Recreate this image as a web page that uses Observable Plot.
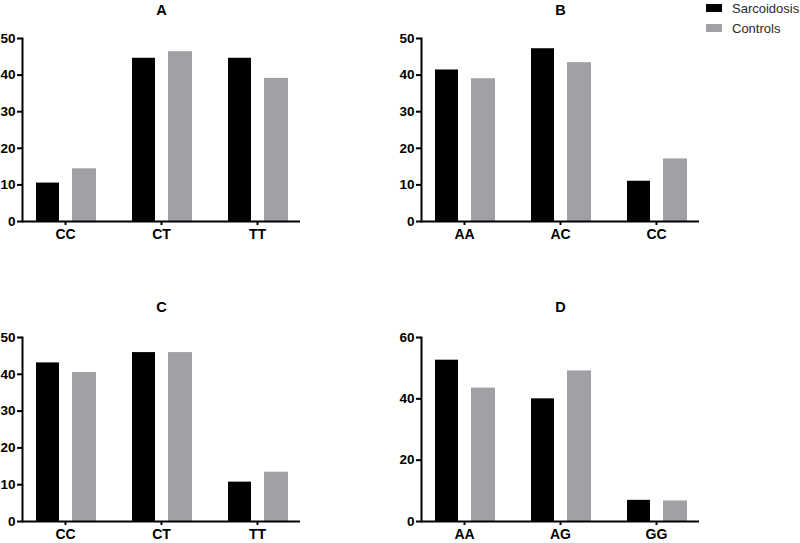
<!DOCTYPE html>
<html>
<head>
<meta charset="utf-8">
<script src="https://cdn.jsdelivr.net/npm/d3@7"></script>
<script src="https://cdn.jsdelivr.net/npm/@observablehq/plot@0.6"></script>
<style>
  html, body { margin: 0; padding: 0; background: #fff; }
  #wrap { position: relative; width: 800px; height: 543px; font-family: "Liberation Sans", Arial, sans-serif; }
  .panel { position: absolute; }
  .legend { position: absolute; left: 706px; font: 13px "Liberation Sans", Arial, sans-serif; color: #2a2a2a; }
  .legend .row { position: absolute; left: 0; display: flex; align-items: center; white-space: nowrap; }
  .legend .sw { width: 16px; height: 8px; margin-right: 10px; }
</style>
</head>
<body>
<div id="wrap"></div>
<script>
// ---- data ----
const series = ["Sarcoidosis", "Controls"];
const seriesColors = ["#000000", "#a1a1a5"];

const titleA = "A";
const genotypesA = ["CC", "CT", "TT"];
const sarcoidosisA = [10.5, 44.6, 44.6];
const controlsA = [14.4, 46.4, 39.1];

const titleB = "B";
const genotypesB = ["AA", "AC", "CC"];
const sarcoidosisB = [41.4, 47.2, 11.0];
const controlsB = [39.0, 43.4, 17.1];

const titleC = "C";
const genotypesC = ["CC", "CT", "TT"];
const sarcoidosisC = [43.1, 45.9, 10.7];
const controlsC = [40.5, 45.9, 13.4];

const titleD = "D";
const genotypesD = ["AA", "AG", "GG"];
const sarcoidosisD = [52.6, 40.0, 6.9];
const controlsD = [43.5, 49.1, 6.7];

const yTicksABC = [0, 10, 20, 30, 40, 50];
const yTicksD = [0, 20, 40, 60];

// ---- drawing ----
const wrap = document.getElementById("wrap");

function panel({title, genotypes, s, c, yMax, yTicks, left, top, height, marginTop, marginBottom, titleDy}) {
  const rowsS = genotypes.map((g, i) => ({genotype: g, value: s[i]}));
  const rowsC = genotypes.map((g, i) => ({genotype: g, value: c[i]}));
  const chart = Plot.plot({
    width: 400,
    height,
    marginLeft: 22,
    marginRight: 100,
    marginTop,
    marginBottom,
    style: {fontFamily: "Liberation Sans, Arial, sans-serif", fontSize: "14px", fontWeight: "bold", color: "#000", background: "transparent"},
    x: {domain: genotypes, paddingInner: 0.3575, paddingOuter: 0.119, label: null},
    y: {domain: [0, yMax], label: null},
    marks: [
      Plot.barY(rowsS, {x: "genotype", y: "value", fill: seriesColors[0], insetLeft: 2, insetRight: 37}),
      Plot.barY(rowsC, {x: "genotype", y: "value", fill: seriesColors[1], insetLeft: 38, insetRight: 0}),
      Plot.axisY({ticks: yTicks, tickSize: 5, tickPadding: 2, strokeWidth: 2, label: null, fontWeight: "bold", fontSize: 13.5}),
      Plot.axisX({tickSize: 4, tickPadding: 4, strokeWidth: 2, label: null, fontWeight: "bold", fontSize: 14}),
      Plot.ruleY([0], {stroke: "#000", strokeWidth: 2}),
      Plot.frame({anchor: "left", stroke: "#000", strokeWidth: 2}),
      Plot.text([title], {frameAnchor: "top", lineAnchor: "middle", dy: titleDy, fontSize: 14.5, fontWeight: "bold", fill: "#000"})
    ]
  });
  const d = document.createElement("div");
  d.className = "panel";
  d.style.left = left + "px";
  d.style.top = top + "px";
  d.appendChild(chart);
  wrap.appendChild(d);
}

panel({title: titleA, genotypes: genotypesA, s: sarcoidosisA, c: controlsA, yMax: 50, yTicks: yTicksABC,
       left: 0, top: 0, height: 270, marginTop: 38, marginBottom: 49, titleDy: -28.5});
panel({title: titleB, genotypes: genotypesB, s: sarcoidosisB, c: controlsB, yMax: 50, yTicks: yTicksABC,
       left: 399, top: 0, height: 270, marginTop: 38, marginBottom: 49, titleDy: -28.5});
panel({title: titleC, genotypes: genotypesC, s: sarcoidosisC, c: controlsC, yMax: 50, yTicks: yTicksABC,
       left: 0, top: 270, height: 273, marginTop: 67, marginBottom: 22, titleDy: -30});
panel({title: titleD, genotypes: genotypesD, s: sarcoidosisD, c: controlsD, yMax: 60, yTicks: yTicksD,
       left: 399, top: 270, height: 273, marginTop: 67, marginBottom: 22, titleDy: -30});

// legend
const leg = document.createElement("div");
leg.className = "legend";
leg.style.top = "0px";
series.forEach((name, i) => {
  const r = document.createElement("div");
  r.className = "row";
  r.style.top = (i === 0 ? 0 : 20) + "px";
  r.style.height = "16px";
  const sw = document.createElement("div");
  sw.className = "sw";
  sw.style.background = seriesColors[i];
  const t = document.createElement("span");
  t.textContent = name;
  r.appendChild(sw);
  r.appendChild(t);
  leg.appendChild(r);
});
wrap.appendChild(leg);
</script>
</body>
</html>
